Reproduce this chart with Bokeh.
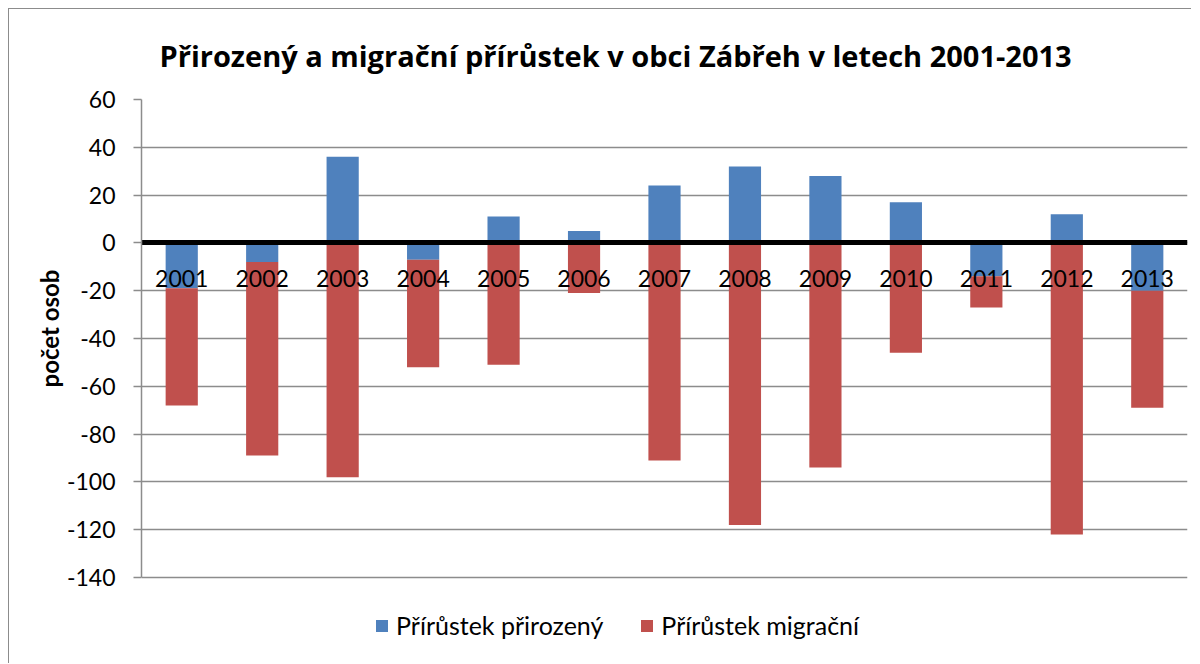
import numpy as np
from bokeh.plotting import figure
from bokeh.models import ColumnDataSource, Legend, LegendItem, FixedTicker, Range1d, Title
from bokeh.embed import file_html
from bokeh.resources import INLINE

years = ["2001", "2002", "2003", "2004", "2005", "2006", "2007",
         "2008", "2009", "2010", "2011", "2012", "2013"]
natural = [-19, -8, 36, -7, 11, 5, 24, 32, 28, 17, -14, 12, -20]
migration = [-49, -81, -98, -45, -51, -21, -91, -118, -94, -46, -13, -122, -49]
y_ticks = [60, 40, 20, 0, -20, -40, -60, -80, -100, -120, -140]

title_text = "Přirozený a migrační přírůstek v obci Zábřeh v letech 2001-2013"
y_label = "počet osob"
label_nat = "Přírůstek přirozený"
label_mig = "Přírůstek migrační"

nat = np.array(natural, dtype=float)
mig = np.array(migration, dtype=float)
nat_bottom = np.zeros_like(nat)
mig_base = np.where(nat < 0, nat, 0.0)
src = ColumnDataSource(dict(
    x=years, nat_top=nat, nat_bottom=nat_bottom,
    mig_top=mig_base + mig, mig_bottom=mig_base,
))

FONT = "Lato"
# frame extends below -140 to leave room for the legend (kept inside the frame)
p = figure(x_range=years, y_range=Range1d(-174.3, 60), width=1183, height=655,
           output_backend="svg", toolbar_location=None,
           min_border_left=132, min_border_right=5, min_border_top=90,
           min_border_bottom=5)
p.styles = {"margin-left": "8px", "margin-top": "8px",
            "border-left": "1px solid #8c8c8c", "border-top": "1px solid #8c8c8c"}
p.outline_line_color = None

p.title.text = title_text
p.title.text_font = "Open Sans"
p.title.text_font_style = "bold"
p.title.text_font_size = "29px"
p.title.text_color = "black"
p.title.align = "left"
p.title.offset = 18
p.title.standoff = 49

r_nat = p.vbar(x="x", top="nat_top", bottom="nat_bottom", width=0.4, source=src,
               fill_color="#4F81BD", line_color=None)
r_mig = p.vbar(x="x", top="mig_top", bottom="mig_bottom", width=0.4, source=src,
               fill_color="#C0504D", line_color=None)

# y axis
yax = p.yaxis[0]
yax.ticker = FixedTicker(ticks=y_ticks)
yax.bounds = (-140, 60)
yax.major_label_overrides = {v: str(v) for v in y_ticks}
yax.axis_line_color = "#8c8c8c"
yax.axis_line_width = 1.5
yax.major_tick_line_color = "#8c8c8c"
yax.major_tick_line_width = 1.5
yax.major_tick_out = 8
yax.major_tick_in = 0
yax.minor_tick_line_color = None
yax.major_label_text_font = FONT
yax.major_label_text_font_size = "23px"
yax.major_label_text_color = "black"
yax.major_label_standoff = 18

# y axis title, placed as a side title so it can sit level with the plotted range
ytitle = Title(text=y_label, text_font=FONT, text_font_style="bold",
               text_font_size="24px", text_color="black",
               align="left", offset=272, standoff=0)
p.add_layout(ytitle, "left")

# x axis at zero
xax = p.xaxis[0]
xax.fixed_location = 0
xax.axis_line_color = "black"
xax.axis_line_width = 5
xax.major_tick_line_color = None
xax.minor_tick_line_color = None
xax.major_label_text_font = FONT
xax.major_label_text_font_size = "23px"
xax.major_label_text_color = "black"
xax.major_label_standoff = 21

p.xgrid.grid_line_color = None
p.ygrid.ticker = FixedTicker(ticks=y_ticks)
p.ygrid.grid_line_color = "#8c8c8c"
p.ygrid.grid_line_width = 1.5

legend = Legend(items=[LegendItem(label=label_nat, renderers=[r_nat]),
                       LegendItem(label=label_mig, renderers=[r_mig])],
                orientation="horizontal", location=(233, 19),
                label_text_font=FONT, label_text_font_size="25px",
                label_text_color="black",
                glyph_width=15, glyph_height=15, spacing=36,
                label_standoff=7, background_fill_alpha=0,
                border_line_color=None, padding=0, margin=0)
p.add_layout(legend, "center")

open("out.html", "w").write(file_html(p, INLINE))
